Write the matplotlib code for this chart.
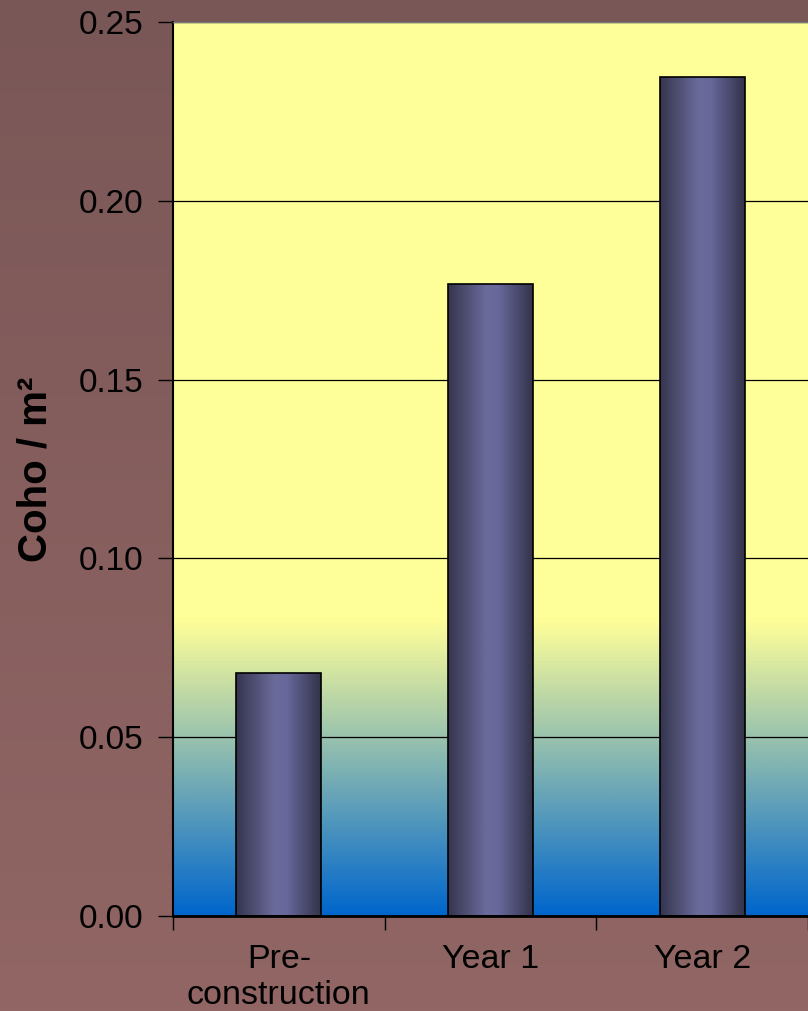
import numpy as np
import matplotlib
matplotlib.use("Agg")
import matplotlib.pyplot as plt
from matplotlib.colors import LinearSegmentedColormap
from matplotlib.patches import Rectangle

categories = ["Pre-\nconstruction", "Year 1", "Year 2"]
values = [0.068, 0.1767, 0.2346]
yticks = [0.00, 0.05, 0.10, 0.15, 0.20, 0.25]
ylabel = "Coho / m\u00b2"

W, H = 808, 1011
fig = plt.figure(figsize=(W / 100, H / 100), dpi=100)

# figure background gradient
bg = fig.add_axes([0, 0, 1, 1], zorder=-10)
bg_cmap = LinearSegmentedColormap.from_list("bg", ["#916664", "#7a5757"])
bg.imshow(np.linspace(0, 1, 256).reshape(-1, 1), aspect="auto", cmap=bg_cmap,
          extent=[0, 1, 0, 1], origin="lower")
bg.set_axis_off()

left, right, top, bottom = 173, 808, 22, 916
ax = fig.add_axes([left / W, 1 - bottom / H, (right - left) / W, (bottom - top) / H])
ax.set_facecolor("none")
cat_w = 213.5
xmax = -0.5 + (right - left) / cat_w

# plot area gradient
area_cmap = LinearSegmentedColormap.from_list(
    "area", [(0.0, (0.0, 0.4, 0.8)), (0.33, (1.0, 1.0, 0.6)), (1.0, (1.0, 1.0, 0.6))])
ax.imshow(np.linspace(0, 1, 512).reshape(-1, 1), aspect="auto", cmap=area_cmap,
          extent=[-0.5, 4.0, 0, 0.25], origin="lower", zorder=0)

for y in yticks[1:]:
    ax.axhline(y, color="black", lw=0.9, zorder=1)

bar_cmap = LinearSegmentedColormap.from_list(
    "bar", [(0.0, "#35354f"), (0.45, "#6b6b9b"), (0.6, "#67679b"), (1.0, "#33334a")])
x = np.arange(len(categories))
bw = 0.40
bars = ax.bar(x, values, width=bw, color="none", edgecolor="black", lw=1.2, zorder=3)
for b in bars:
    x0, y0 = b.get_x(), b.get_y()
    im = ax.imshow(np.linspace(0, 1, 256).reshape(1, -1), aspect="auto", cmap=bar_cmap,
                   extent=[x0, x0 + b.get_width(), y0, y0 + b.get_height()], zorder=2)
    im.set_clip_path(Rectangle((x0, y0), b.get_width(), b.get_height(), transform=ax.transData))

ax.set_xlim(-0.5, xmax)
ax.set_ylim(0, 0.25)

ax.set_yticks(yticks)
ax.set_yticklabels([f"{v:.2f}" for v in yticks], fontsize=24, family="Liberation Sans")
ax.tick_params(axis="y", direction="out", length=11, width=1, pad=10, colors="black")
ax.set_xticks(x)
ax.set_xticklabels(categories, fontsize=24.5, family="Liberation Sans", linespacing=1.2)
ax.tick_params(axis="x", length=0, pad=20)
ax.set_xticks(np.arange(-0.5, 3.0, 1.0), minor=True)
ax.tick_params(axis="x", which="minor", direction="out", length=10, width=1)

ax.set_ylabel(ylabel, fontsize=29, fontweight="bold", family="Liberation Sans", labelpad=18)

ax.spines["right"].set_visible(False)
ax.spines["top"].set_color("#777777")
ax.spines["top"].set_linewidth(1)
ax.spines["left"].set_linewidth(1.5)
ax.spines["bottom"].set_linewidth(2)

fig.savefig("out.png", dpi=100)
